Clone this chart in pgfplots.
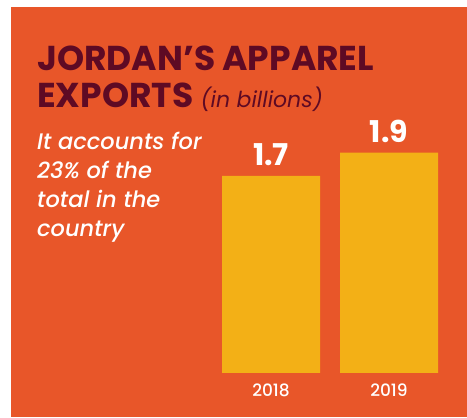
\documentclass[border=0pt]{standalone}
\usepackage{fontspec}
\setmainfont{Poppins}
\newfontfamily\medfont{Poppins Medium}
\usepackage{pgfplots}
\pgfplotsset{compat=1.18}
\definecolor{bgorange}{RGB}{232,86,41}
\definecolor{baryellow}{RGB}{243,176,22}
\definecolor{titlered}{RGB}{94,10,36}

\begin{document}
\begin{tikzpicture}[x=1pt,y=1pt]
\fill[white] (-11,0) rectangle (456,417);
\begin{axis}[
 at={(0,0)}, anchor=south west,
 scale only axis,
 width=456pt, height=410pt,
 axis background/.style={fill=bgorange},
 axis line style={draw=none},
 clip=false,
 ybar,
 bar width=98pt,
 xmin=-2.2034, xmax=1.661,
 ymin=-0.3793, ymax=3.155,
 xtick={0,1},
 xticklabels={2018,2019},
 ytick=\empty,
 major tick length=0pt,
 xticklabel style={white, anchor=base, yshift=20pt, font=\medfont\fontsize{17}{17}\selectfont},
 nodes near coords,
 nodes near coords style={white, anchor=base, yshift=10pt, font=\bfseries\fontsize{30}{30}\selectfont},
 /pgf/number format/assume math mode=true,
]
\addplot[fill=baryellow, draw=none] coordinates {(0,1.7) (1,1.9)};
\end{axis}
\node[anchor=base west, inner sep=0, text=titlered, font=\bfseries\fontsize{34.5}{34.5}\selectfont] at (26,346) {JORDAN’S APPAREL};
\node[anchor=base west, inner sep=0, text=titlered, font=\bfseries\fontsize{34.5}{34.5}\selectfont] at (26,309) {EXPORTS {\mdseries\itshape\fontsize{22}{22}\selectfont (in billions)}};
\node[anchor=base west, inner sep=0, text=white, font=\medfont\itshape\fontsize{22.5}{22.5}\selectfont] at (26,267) {It accounts for};
\node[anchor=base west, inner sep=0, text=white, font=\medfont\itshape\fontsize{22.5}{22.5}\selectfont] at (26,238) {23\% of the};
\node[anchor=base west, inner sep=0, text=white, font=\medfont\itshape\fontsize{22.5}{22.5}\selectfont] at (26,209) {total in the};
\node[anchor=base west, inner sep=0, text=white, font=\medfont\itshape\fontsize{22.5}{22.5}\selectfont] at (26,180) {country};
\end{tikzpicture}
\end{document}
